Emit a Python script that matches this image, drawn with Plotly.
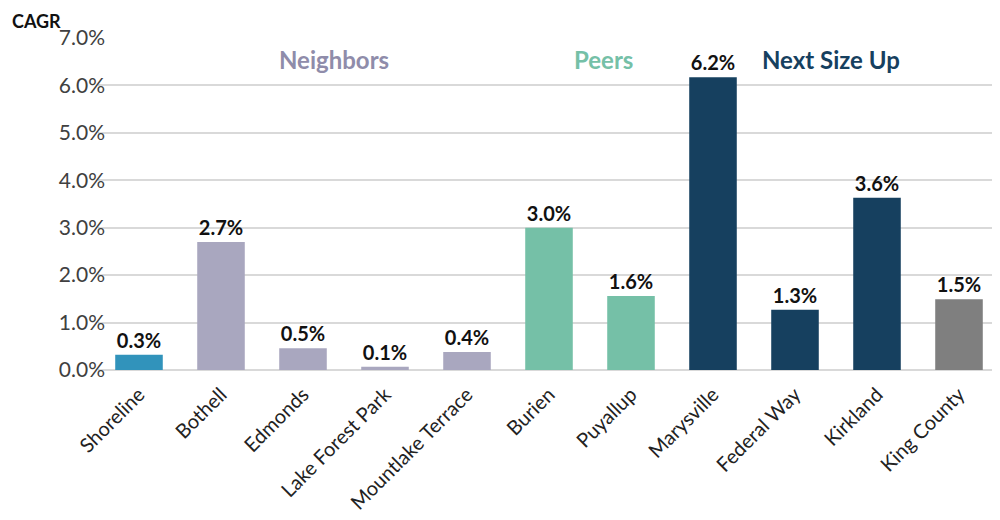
import plotly.graph_objects as go

categories = ["Shoreline", "Bothell", "Edmonds", "Lake Forest Park", "Mountlake Terrace",
              "Burien", "Puyallup", "Marysville", "Federal Way", "Kirkland", "King County"]
cagr = [0.32, 2.70, 0.46, 0.07, 0.38, 3.00, 1.56, 6.17, 1.27, 3.63, 1.49]
groups = ["Shoreline", "Neighbors", "Neighbors", "Neighbors", "Neighbors",
          "Peers", "Peers", "Next Size Up", "Next Size Up", "Next Size Up", "County"]
group_colors = {"Shoreline": "#3193BB", "Neighbors": "#A9A7BF", "Peers": "#75C0A7",
                "Next Size Up": "#16405F", "County": "#7F7F7F"}
group_label_names = ["Neighbors", "Peers", "Next Size Up"]
group_label_colors = ["#8F8CAA", "#75C0A7", "#16405F"]
group_label_x = [2.38, 5.66, 8.44]
group_label_y = [6.55, 6.55, 6.55]
y_ticks = [0, 1, 2, 3, 4, 5, 6, 7]

FONT = "Lato"

fig = go.Figure()
fig.add_trace(go.Bar(
    x=categories, y=cagr,
    marker=dict(color=[group_colors[g] for g in groups], line=dict(width=0)),
    text=[f"{v:.1f}%" for v in cagr],
    textposition="outside",
    textfont=dict(family=FONT, size=20, color="#111111", weight="bold"),
    cliponaxis=False,
))

for name, col, gx, gy in zip(group_label_names, group_label_colors, group_label_x, group_label_y):
    fig.add_annotation(x=gx, y=gy, xref="x", yref="y", text=f"<b>{name}</b>",
                       showarrow=False, font=dict(family=FONT, size=24, color=col))

fig.add_annotation(x=-0.098, y=1.09, xref="paper", yref="paper", xanchor="left", yanchor="top",
                   text="<b>CAGR</b>", showarrow=False,
                   font=dict(family=FONT, size=18, color="#111111"))

fig.update_layout(
    width=992, height=512,
    margin=dict(l=90, r=0, t=30, b=150, autoexpand=False),
    paper_bgcolor="white", plot_bgcolor="white",
    bargap=0.42,
    showlegend=False,
    font=dict(family=FONT),
)
fig.update_xaxes(tickangle=-45, tickfont=dict(family=FONT, size=20, color="#222222"),
                 ticklabelstandoff=8,
                 showgrid=False, showline=False, ticks="", automargin=False)
fig.update_yaxes(range=[0, 7], tickvals=y_ticks, ticktext=[f"{t:.1f}%" for t in y_ticks],
                 tickfont=dict(family=FONT, size=21, color="#404040"),
                 ticklabelstandoff=-8,
                 showgrid=True, gridcolor="#D9D9D9", gridwidth=1.5,
                 zeroline=True, zerolinecolor="#D9D9D9", zerolinewidth=1.5,
                 ticks="", ticklen=0, showline=False, automargin=False)

fig.write_html("out.html")
